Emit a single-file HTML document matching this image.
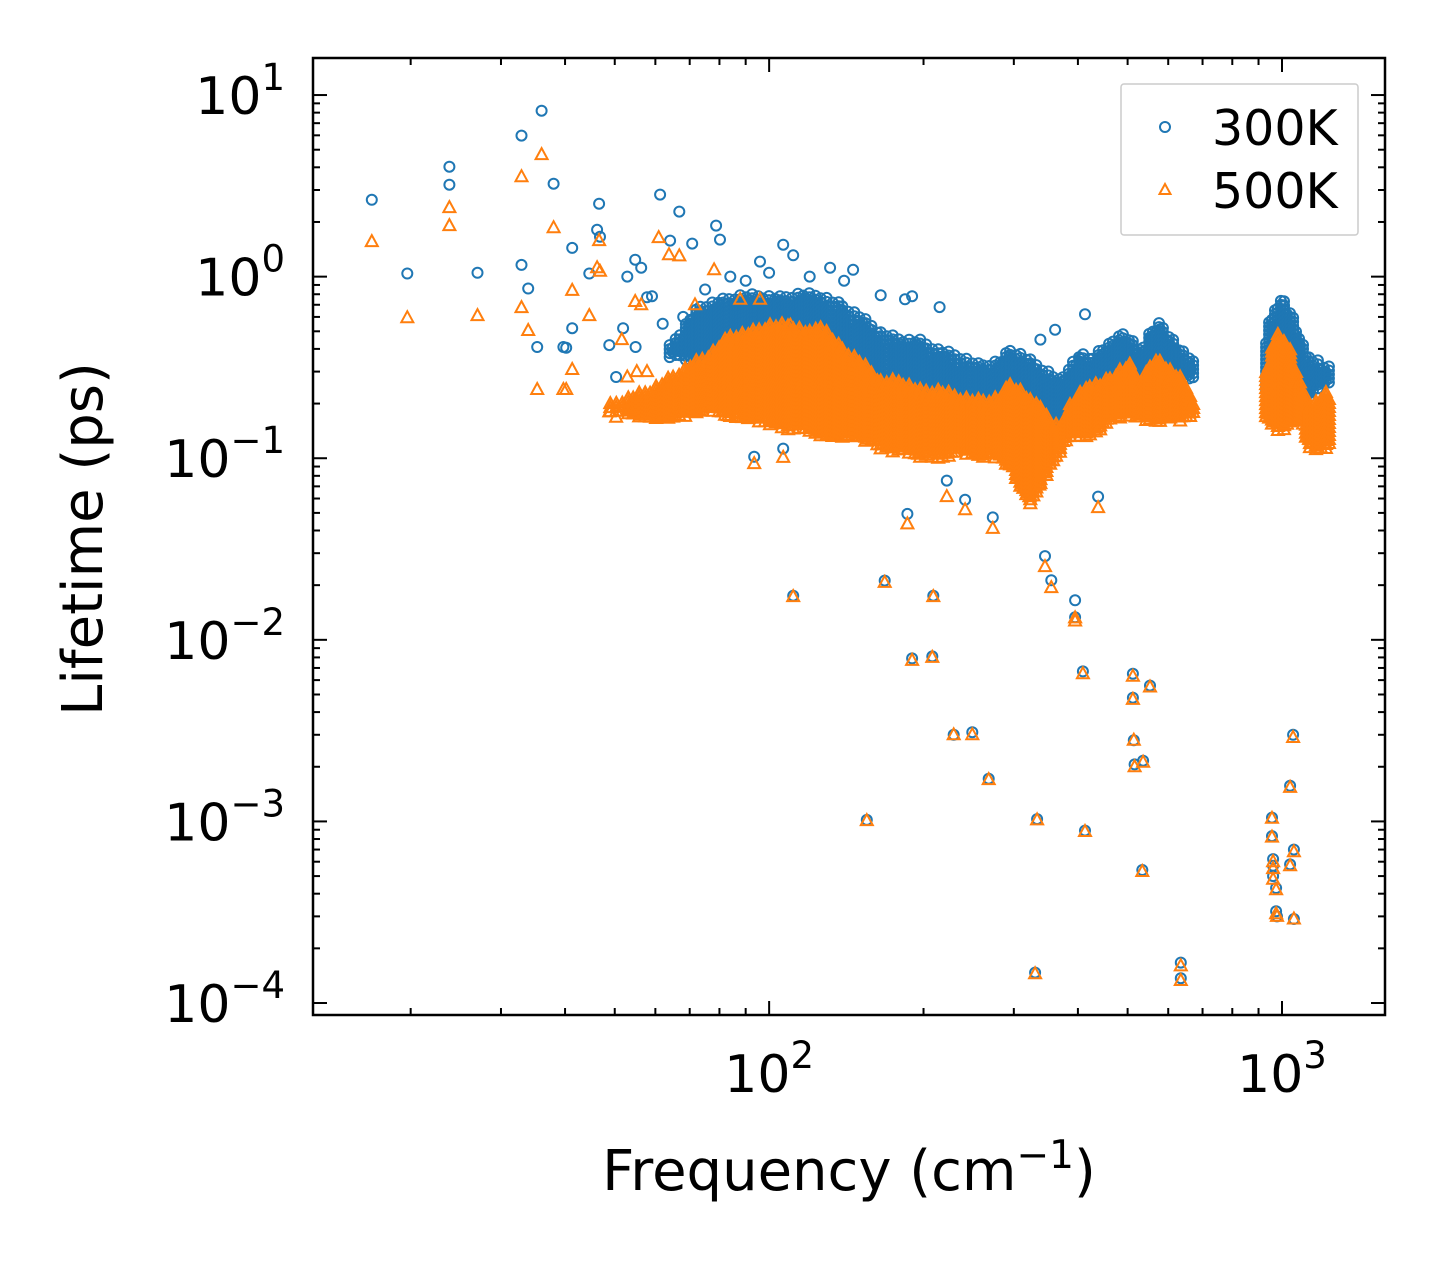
<!DOCTYPE html>
<html><head><meta charset="utf-8"><style>
html,body{margin:0;padding:0;background:#fff}
svg text{font-family:"DejaVu Sans","Liberation Sans",sans-serif;fill:#000}
</style></head><body>
<svg id="chart" width="1443" height="1265" viewBox="0 0 1443 1265" xmlns="http://www.w3.org/2000/svg">
<g id="marks300"></g>
<g id="marks500"></g>
<g id="axes"></g>
<text x="849" y="1190" font-size="56" text-anchor="middle">Frequency (cm<tspan dy="-22" font-size="39">−1</tspan><tspan dy="22">)</tspan></text>
<text transform="translate(102,539) rotate(-90)" font-size="56" text-anchor="middle">Lifetime (ps)</text>
<g>
<rect x="1121" y="84" width="237" height="151" rx="3" fill="#fff" stroke="#ccc" stroke-width="1.5"/>
<circle cx="1165" cy="127" r="5" fill="none" stroke="#1f77b4" stroke-width="2"/>
<text x="1212" y="145" font-size="49">300K</text>
<polygon points="1165,184 1170.5,194 1159.5,194" fill="none" stroke="#ff7f0e" stroke-width="2"/>
<text x="1212" y="208" font-size="49">500K</text>
</g>
</svg>
<script>
// ---- data ----
const iso300Freq=[16.8,19.7,23.8,23.8,27.0,32.9,32.9,33.9,35.3,36.0,38.0,39.7,40.2,41.3,41.3,44.6,46.2,46.6,46.8,48.8,50.3,51.9,52.9,54.8,54.9,56.3,57.8,59.1,61.3,66.8,64.1,70.8,78.8,80.2,106.5,111.4,96,131.5,145.8,165,184,190,215,338,361,413,62,68,75,84,90,100,120,140];
const iso300Life=[2.65,1.04,4.03,3.21,1.05,1.16,5.98,0.86,0.41,8.2,3.25,0.41,0.406,1.44,0.52,1.04,1.81,2.52,1.66,0.42,0.28,0.52,1.0,1.24,0.41,1.12,0.77,0.78,2.83,2.28,1.58,1.52,1.91,1.60,1.50,1.31,1.21,1.12,1.09,0.79,0.75,0.78,0.68,0.45,0.51,0.62,0.55,0.6,0.85,1.0,0.95,1.05,1.0,0.95];
const iso500Freq=[16.8,19.7,23.8,23.8,27.0,32.9,32.9,33.9,35.3,36.0,38.0,39.7,40.2,41.3,41.3,44.6,46.2,46.6,46.8,48.8,50.3,51.6,52.9,53.6,54.8,55.2,56.3,57.8,60.9,63.8,66.8,71.7,78.1,87.8,96,110];
const iso500Life=[1.56,0.594,2.40,1.91,0.61,3.55,0.675,0.505,0.239,4.70,1.86,0.239,0.239,0.84,0.308,0.61,1.12,1.58,1.07,0.18,0.168,0.45,0.28,0.185,0.73,0.30,0.70,0.30,1.64,1.32,1.30,0.70,1.09,0.75,0.75,0.54];
const outFreq=[93.5,106.5,186,222,241,273,345,355,438,111.4,168,209,190,208,229,249,268,155,333,330,395,395,409,413,512,512,514,516,536,553,534,635,635,956,956,961,961,961,974,974,978,1037,1037,1051,1055,1055];
const out300=[0.102,0.113,0.0494,0.0753,0.0590,0.0472,0.0289,0.0213,0.0615,0.0175,0.0212,0.0175,0.0079,0.0081,0.0030,0.0031,0.00172,0.00102,0.00103,0.000147,0.0165,0.0133,0.0067,0.00089,0.0065,0.0048,0.0028,0.00206,0.00216,0.0056,0.00054,0.000167,0.000137,0.00105,0.00083,0.00062,0.00057,0.00050,0.00043,0.00032,0.00030,0.00157,0.00058,0.0030,0.00070,0.00029];
const out500=[0.0934,0.101,0.0435,0.0615,0.0521,0.0411,0.0253,0.0194,0.0535,0.0173,0.0207,0.0173,0.0077,0.0080,0.0030,0.0030,0.00170,0.00101,0.00102,0.000145,0.0132,0.0127,0.0065,0.00088,0.0063,0.0047,0.0028,0.00200,0.00212,0.0055,0.00053,0.000160,0.000133,0.00104,0.00082,0.00060,0.00055,0.00048,0.00042,0.00031,0.00030,0.00154,0.00057,0.0029,0.00068,0.00029];
const band300Freq=[64,67,70.2,73.4,80.2,87.8,96,105,115,126,137,150,165,180,197,215,236,258,282,295,309,323,353,369,386,404,422,442,462,483,505,529,553,578,605,633,662,931,956,982,1009,1037,1065,1084,1134,1175,1218];
const band300Hi=[0.42,0.5,0.6,0.7,0.75,0.8,0.8,0.78,0.82,0.8,0.72,0.62,0.5,0.46,0.45,0.4,0.37,0.33,0.35,0.4,0.38,0.35,0.3,0.27,0.33,0.38,0.36,0.4,0.43,0.5,0.46,0.4,0.5,0.56,0.48,0.4,0.36,0.5,0.64,0.72,0.75,0.66,0.55,0.45,0.36,0.35,0.32];
const band300Lo=[0.36,0.35,0.33,0.31,0.27,0.24,0.24,0.22,0.21,0.21,0.21,0.185,0.16,0.14,0.127,0.11,0.127,0.14,0.127,0.16,0.14,0.127,0.16,0.14,0.16,0.16,0.185,0.21,0.21,0.24,0.21,0.185,0.21,0.24,0.27,0.27,0.27,0.21,0.21,0.21,0.21,0.21,0.21,0.21,0.21,0.24,0.25];
const band500Freq=[49,53.6,58.6,64.1,70.2,76.7,84,91.8,100.4,110,120,126,137,150,165,180,197,215,236,258,282,295,309,323,338,353,369,386,404,422,442,462,483,505,529,553,578,605,633,662,931,956,982,1009,1037,1084,1134,1175,1218];
const band500Hi=[0.2,0.22,0.24,0.28,0.33,0.38,0.48,0.5,0.55,0.55,0.5,0.55,0.42,0.35,0.27,0.27,0.24,0.24,0.22,0.21,0.22,0.26,0.24,0.21,0.2,0.16,0.15,0.2,0.23,0.26,0.26,0.28,0.31,0.33,0.26,0.33,0.35,0.31,0.28,0.23,0.3,0.42,0.48,0.45,0.4,0.26,0.2,0.21,0.23];
const band500Lo=[0.18,0.17,0.16,0.16,0.17,0.18,0.16,0.16,0.15,0.14,0.14,0.127,0.127,0.127,0.11,0.105,0.098,0.098,0.105,0.098,0.098,0.087,0.067,0.055,0.067,0.087,0.105,0.127,0.127,0.127,0.14,0.16,0.16,0.17,0.16,0.16,0.15,0.16,0.16,0.16,0.16,0.15,0.14,0.14,0.15,0.16,0.11,0.105,0.11];
const xTickVals=[100,1000];
const xTickLabels=["2","3"];
const yTickVals=[1e-4,1e-3,1e-2,1e-1,1,10];
const yTickLabels=["−4","−3","−2","−1","0","1"];

// ---- axes ----
const L=313,R=1385,T=58,B=1015;
const xMin=Math.log10(12.9),xMax=Math.log10(1588),yMin=-4.066,yMax=1.204;
const xs=v=>L+(Math.log10(v)-xMin)/(xMax-xMin)*(R-L);
const ys=v=>B-(Math.log10(v)-yMin)/(yMax-yMin)*(B-T);
const NS="http://www.w3.org/2000/svg";
function mk(tag,attrs,parent){const e=document.createElementNS(NS,tag);for(const k in attrs)e.setAttribute(k,attrs[k]);parent.appendChild(e);return e;}
const g3=document.getElementById('marks300'),g5=document.getElementById('marks500'),ax=document.getElementById('axes');
function circ(x,y,name){const c=mk('circle',{cx:x.toFixed(1),cy:y.toFixed(1),r:5,fill:'none',stroke:'#1f77b4','stroke-width':2},g3);

}
function tri(x,y,name){const p=mk('polygon',{points:`${x.toFixed(1)},${(y-6.5).toFixed(1)} ${(x+6).toFixed(1)},${(y+4.5).toFixed(1)} ${(x-6).toFixed(1)},${(y+4.5).toFixed(1)}`,fill:'none',stroke:'#ff7f0e','stroke-width':2},g5);

}
const rag=[0,7,2,10,4,12,1,8,3,6];
function band(F,H,Lo,fn,name){
  let col=0;
  for(let i=0;i<F.length;i++){
    const x0=xs(F[i]);
    const hasNext=i<F.length-1 && xs(F[i+1])-x0<=22;
    const x1=hasNext?xs(F[i+1]):x0+4;
    for(let x=x0;x<x1;x+=3){
      const t=hasNext?(x-x0)/(x1-x0):0;
      const yh=ys(H[i])+(hasNext?(ys(H[i+1])-ys(H[i]))*t:0);
      const yl=ys(Lo[i])+(hasNext?(ys(Lo[i+1])-ys(Lo[i]))*t:0);
      const r=rag[col%rag.length];col++;
      for(let y=yh+r;y<=yl-r*0.6;y+=4)fn(x,y,name);
    }
  }
}
// 300K
band(band300Freq,band300Hi,band300Lo,circ,'point-300k-band');
iso300Freq.forEach((f,i)=>circ(xs(f),ys(iso300Life[i]),'point-300k'));
outFreq.forEach((f,i)=>circ(xs(f),ys(out300[i]),'point-300k-outlier'));
// 500K
band(band500Freq,band500Hi,band500Lo,tri,'point-500k-band');
iso500Freq.forEach((f,i)=>tri(xs(f),ys(iso500Life[i]),'point-500k'));
outFreq.forEach((f,i)=>tri(xs(f),ys(out500[i]),'point-500k-outlier'));

// frame
const fr=mk('rect',{x:L,y:T,width:R-L,height:B-T,fill:'none',stroke:'#000','stroke-width':2.5},ax);


function tick(x1,y1,x2,y2,name){const t=mk('line',{x1,y1,x2,y2,stroke:'#000','stroke-width':2},ax);

}
for(let d=1;d<=3;d++)for(let m=1;m<=9;m++){const v=m*Math.pow(10,d);const x=xs(v);if(x<L+1||x>R-1)continue;
  const len=m===1?14:7;tick(x,B,x,B-len,'x-tick');tick(x,T,x,T+len,'x-tick-top');}
xTickVals.forEach((v,i)=>{const x=xs(v);const t=mk('text',{x:x,y:1092,'font-size':52,'text-anchor':'middle'},ax);


t.innerHTML=`10<tspan dy="-24" font-size="37">${xTickLabels[i]}</tspan>`;});
for(let d=-4;d<=1;d++)for(let m=1;m<=9;m++){const v=m*Math.pow(10,d);const y=ys(v);if(y<T+1||y>B-1)continue;
  const len=m===1?14:7;tick(L,y,L+len,y,'y-tick');tick(R,y,R-len,y,'y-tick-right');}
yTickVals.forEach((v,i)=>{const y=ys(v);const t=mk('text',{x:285,y:y+19,'font-size':52,'text-anchor':'end'},ax);


t.innerHTML=`10<tspan dy="-24" font-size="37">${yTickLabels[i]}</tspan>`;});
</script>
</body></html>
